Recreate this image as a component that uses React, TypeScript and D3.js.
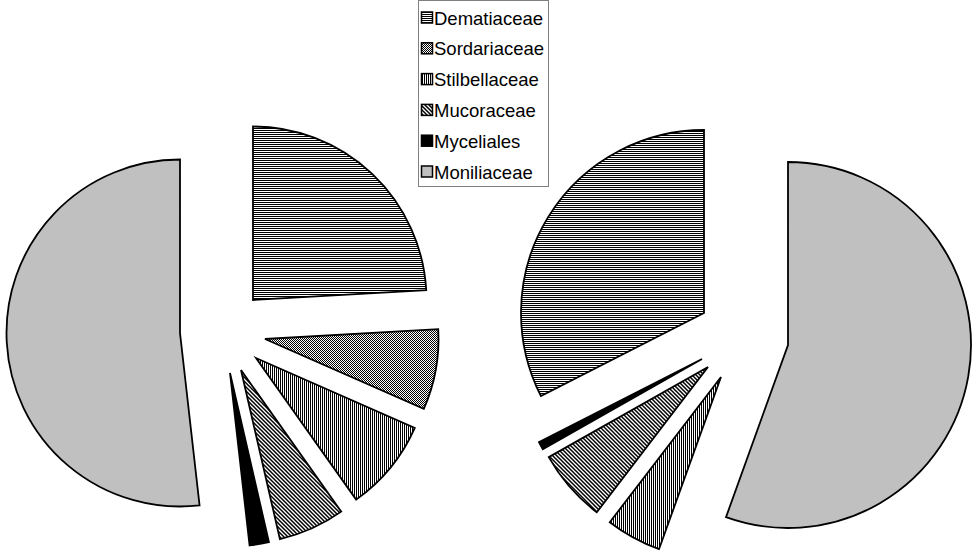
import React from "react";
import * as d3 from "d3";

const categories = ["Dematiaceae", "Sordariaceae", "Stilbellaceae", "Mucoraceae", "Myceliales", "Moniliaceae"];
const leftValues = [24.1, 7.5, 8.6, 6.2, 1.8, 51.8];
const rightValues = [32.5, 0, 4.9, 6.4, 0.7, 55.5];
// clockwise drawing order of the category indices, starting at 12 o'clock
const leftOrder = [0, 1, 2, 3, 4, 5];
const rightOrder = [5, 2, 3, 4, 0, 1];
const fills = ["url(#pHoriz)", "url(#pCheck)", "url(#pVert)", "url(#pDiag)", "#000000", "#C0C0C0"];

const W = 972;
const H = 552;

type PieSpec = { values: number[]; order: number[]; cx: number; cy: number; r: number; explode: number };

const pies: PieSpec[] = [
  { values: leftValues, order: leftOrder, cx: 223, cy: 331, r: 173.5, explode: 43 },
  { values: rightValues, order: rightOrder, cx: 743, cy: 337, r: 183, explode: 46 },
];

function Pie({ spec }: { spec: PieSpec }) {
  const items = spec.order.map((idx) => ({ idx, value: spec.values[idx] }));
  const pie = d3
    .pie<{ idx: number; value: number }>()
    .value((d) => d.value)
    .sort(null)
    .startAngle(0)
    .endAngle(2 * Math.PI);
  const arcs = pie(items);
  const arc = d3.arc<d3.PieArcDatum<{ idx: number; value: number }>>().innerRadius(0).outerRadius(spec.r);
  return (
    <g transform={`translate(${spec.cx},${spec.cy})`}>
      {arcs.map((a) => {
        if (a.value <= 0) return null;
        const mid = (a.startAngle + a.endAngle) / 2;
        const dx = Math.round(Math.sin(mid) * spec.explode);
        const dy = Math.round(-Math.cos(mid) * spec.explode);
        return (
          <path
            key={a.data.idx}
            d={arc(a) || ""}
            transform={`translate(${dx},${dy})`}
            fill={fills[a.data.idx]}
            stroke="#000"
            strokeWidth={1.8}
            strokeLinejoin="miter"
          />
        );
      })}
    </g>
  );
}

export default function App() {
  const legendX = 418.5;
  const legendY = 0.5;
  const legendW = 130;
  const legendH = 186;
  const rowY = d3.scaleLinear().domain([0, categories.length - 1]).range([18, 172]);
  return (
    <svg
      width={W}
      height={H}
      viewBox={`0 0 ${W} ${H}`}
      style={{ position: "absolute", left: 0, top: 0, background: "#fff" }}
      fontFamily="'Liberation Sans', Arial, sans-serif"
    >
      <defs>
        <pattern id="pHoriz" patternUnits="userSpaceOnUse" x={0} y={0} width={2} height={2}>
          <rect width={2} height={2} fill="#fff" />
          <rect width={2} height={1} fill="#000" />
        </pattern>
        <pattern id="pVert" patternUnits="userSpaceOnUse" x={0} y={0} width={2} height={2}>
          <rect width={2} height={2} fill="#fff" />
          <rect width={1} height={2} fill="#000" />
        </pattern>
        <pattern id="pCheck" patternUnits="userSpaceOnUse" x={0} y={0} width={2} height={2}>
          <rect width={2} height={2} fill="#fff" />
          <rect width={1} height={1} fill="#000" />
          <rect x={1} y={1} width={1} height={1} fill="#000" />
        </pattern>
        <pattern id="pDiag" patternUnits="userSpaceOnUse" x={0} y={0} width={4} height={4}>
          <rect width={4} height={4} fill="#fff" />
          <path d="M-1,-1 L5,5 M-1,3 L1,5 M3,-1 L5,1" stroke="#000" strokeWidth={1.5} />
        </pattern>
      </defs>
      <rect width={W} height={H} fill="#fff" />
      {pies.map((p, i) => (
        <Pie key={i} spec={p} />
      ))}
      <g>
        <rect x={legendX} y={legendY} width={legendW} height={legendH} fill="#fff" stroke="#808080" strokeWidth={1} />
        {categories.map((c, i) => {
          const y = rowY(i);
          return (
            <g key={c}>
              <rect x={421.5} y={y - 6} width={11} height={11} fill={fills[i]} stroke="#000" strokeWidth={1.5} />
              <text x={434} y={y} dy="0.36em" fontSize={18.5} fill="#000">
                {c}
              </text>
            </g>
          );
        })}
      </g>
    </svg>
  );
}
